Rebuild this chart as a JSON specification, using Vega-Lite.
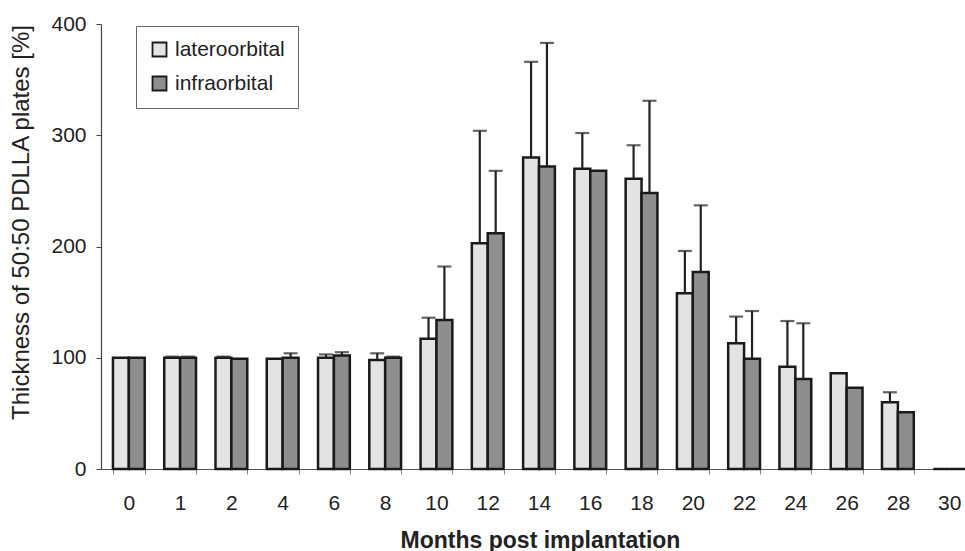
{
  "$schema": "https://vega.github.io/schema/vega-lite/v6.json",
  "autosize": {"type": "none"},
  "padding": {"left": 101, "top": 24, "right": 0, "bottom": 82},
  "width": 864,
  "height": 445,
  "background": "white",
  "config": {
    "view": {"stroke": null},
    "font": "Liberation Sans",
    "axis": {"grid": false, "labelFont": "Liberation Sans", "titleFont": "Liberation Sans", "labelColor": "#222", "titleColor": "#222"}
  },
  "data": {
    "values": [
      {"month": "0", "group": "lateroorbital", "value": 100, "upper": null},
      {"month": "0", "group": "infraorbital", "value": 100, "upper": null},
      {"month": "1", "group": "lateroorbital", "value": 100, "upper": 101},
      {"month": "1", "group": "infraorbital", "value": 100, "upper": 101},
      {"month": "2", "group": "lateroorbital", "value": 100, "upper": 101},
      {"month": "2", "group": "infraorbital", "value": 99, "upper": null},
      {"month": "4", "group": "lateroorbital", "value": 99, "upper": null},
      {"month": "4", "group": "infraorbital", "value": 100, "upper": 104},
      {"month": "6", "group": "lateroorbital", "value": 100, "upper": 103},
      {"month": "6", "group": "infraorbital", "value": 102, "upper": 105},
      {"month": "8", "group": "lateroorbital", "value": 98, "upper": 104},
      {"month": "8", "group": "infraorbital", "value": 100, "upper": 101},
      {"month": "10", "group": "lateroorbital", "value": 117, "upper": 136},
      {"month": "10", "group": "infraorbital", "value": 134, "upper": 182},
      {"month": "12", "group": "lateroorbital", "value": 203, "upper": 304},
      {"month": "12", "group": "infraorbital", "value": 212, "upper": 268},
      {"month": "14", "group": "lateroorbital", "value": 280, "upper": 366},
      {"month": "14", "group": "infraorbital", "value": 272, "upper": 383},
      {"month": "16", "group": "lateroorbital", "value": 270, "upper": 302},
      {"month": "16", "group": "infraorbital", "value": 268, "upper": null},
      {"month": "18", "group": "lateroorbital", "value": 261, "upper": 291},
      {"month": "18", "group": "infraorbital", "value": 248, "upper": 331},
      {"month": "20", "group": "lateroorbital", "value": 158, "upper": 196},
      {"month": "20", "group": "infraorbital", "value": 177, "upper": 237},
      {"month": "22", "group": "lateroorbital", "value": 113, "upper": 137},
      {"month": "22", "group": "infraorbital", "value": 99, "upper": 142},
      {"month": "24", "group": "lateroorbital", "value": 92, "upper": 133},
      {"month": "24", "group": "infraorbital", "value": 81, "upper": 131},
      {"month": "26", "group": "lateroorbital", "value": 86, "upper": null},
      {"month": "26", "group": "infraorbital", "value": 73, "upper": null},
      {"month": "28", "group": "lateroorbital", "value": 60, "upper": 69},
      {"month": "28", "group": "infraorbital", "value": 51, "upper": null},
      {"month": "30", "group": "lateroorbital", "value": 0, "upper": null},
      {"month": "30", "group": "infraorbital", "value": 0, "upper": null}
    ]
  },
  "encoding": {
    "x": {
      "field": "month",
      "type": "ordinal",
      "sort": null,
      "scale": {"range": [0, 876], "paddingInner": 0.38, "paddingOuter": 0.233},
      "axis": {
        "title": "Months post implantation",
        "titleFontSize": 23,
        "titleFontWeight": "bold",
        "titleBaseline": "alphabetic",
        "titleY": 78,
        "titleX": 439,
        "labelAngle": 0,
        "labelFontSize": 21,
        "labelPadding": 18,
        "domainColor": "#555",
        "domainWidth": 1.2,
        "tickColor": "#888",
        "tickSize": 5,
        "tickBand": "extent"
      }
    },
    "xOffset": {"field": "group", "type": "nominal", "sort": ["lateroorbital", "infraorbital"]},
    "y": {
      "type": "quantitative",
      "scale": {"domain": [0, 400], "nice": false},
      "axis": {
        "title": "Thickness of 50:50 PDLLA plates [%]",
        "titleFontSize": 24,
        "titleFontWeight": "normal",
        "titleAngle": 270,
        "titleAlign": "center",
        "titleBaseline": "middle",
        "titleX": -80,
        "titleY": 198,
        "values": [0, 100, 200, 300, 400],
        "labelFontSize": 21,
        "labelPadding": 10,
        "domainColor": "#444",
        "domainWidth": 1.2,
        "tickColor": "#444",
        "tickSize": 5
      }
    }
  },
  "layer": [
    {
      "mark": {"type": "bar", "stroke": "#1a1a1a", "strokeWidth": 2.5},
      "encoding": {
        "y": {"field": "value"},
        "fill": {
          "field": "group",
          "type": "nominal",
          "scale": {"domain": ["lateroorbital", "infraorbital"], "range": ["#e3e3e3", "#8e8e8e"]},
          "legend": {
            "title": null,
            "orient": "none",
            "legendX": 35,
            "legendY": 2,
            "direction": "vertical",
            "strokeColor": "#666",
            "fillColor": "white",
            "padding": 13,
            "rowPadding": 11,
            "symbolType": "square",
            "symbolSize": 196,
            "symbolStrokeColor": "#1a1a1a",
            "symbolStrokeWidth": 1.8,
            "labelFont": "Liberation Sans",
            "labelFontSize": 21,
            "labelColor": "#222",
            "labelOffset": 5
          }
        }
      }
    },
    {
      "transform": [{"filter": "datum.upper != null"}],
      "mark": {"type": "rule", "color": "#222", "strokeWidth": 2.2},
      "encoding": {
        "y": {"field": "value"},
        "y2": {"field": "upper"}
      }
    },
    {
      "transform": [{"filter": "datum.upper != null"}],
      "mark": {"type": "tick", "color": "#222", "size": 14, "thickness": 2.2},
      "encoding": {
        "y": {"field": "upper"}
      }
    }
  ]
}
